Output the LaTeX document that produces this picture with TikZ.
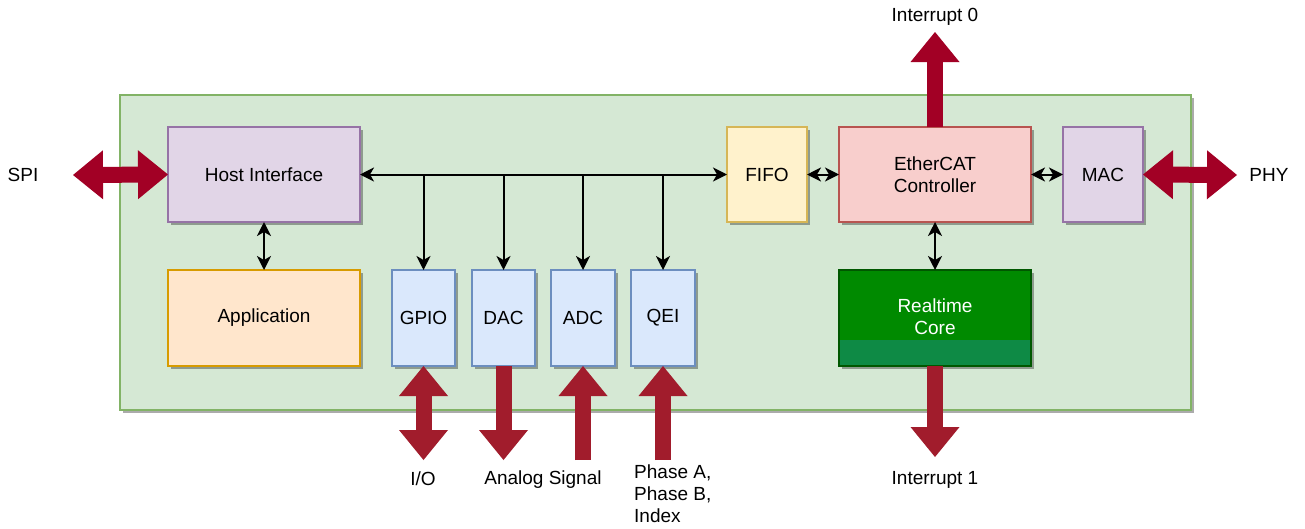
\documentclass[tikz,border=0pt]{standalone}
\usepackage{fontspec}
\setmainfont{Liberation Sans}
\usetikzlibrary{arrows.meta,shadows}
\definecolor{contfill}{HTML}{D5E8D4}
\definecolor{contdraw}{HTML}{82B366}
\definecolor{purfill}{HTML}{E1D5E7}
\definecolor{purdraw}{HTML}{9673A6}
\definecolor{orfill}{HTML}{FFE6CC}
\definecolor{ordraw}{HTML}{D79B00}
\definecolor{bluefill}{HTML}{DAE8FC}
\definecolor{bluedraw}{HTML}{6C8EBF}
\definecolor{yelfill}{HTML}{FFF2CC}
\definecolor{yeldraw}{HTML}{D6B656}
\definecolor{redfill}{HTML}{F8CECC}
\definecolor{reddraw}{HTML}{B85450}
\definecolor{rtfill}{HTML}{008A00}
\definecolor{rtdraw}{HTML}{005700}
\definecolor{rtstrip}{HTML}{0E8A45}
\definecolor{crimsonA}{HTML}{A20025}
\definecolor{crimsonB}{HTML}{A11C2C}
\begin{document}
\begin{tikzpicture}[x=1pt,y=-1pt,
  every node/.style={font=\fontsize{19}{22}\selectfont},
  box/.style={draw, line width=1.3pt, inner sep=0pt, outer sep=0pt, align=center, anchor=north west,
    drop shadow={shadow xshift=3pt, shadow yshift=-3pt, fill=black, opacity=0.33}},
  lbl/.style={inner sep=0pt, align=center},
  conn/.style={line width=2pt, {Stealth[length=14pt,width=14pt,inset=4pt]}-{Stealth[length=14pt,width=14pt,inset=4pt]}},
  connone/.style={line width=2pt, -{Stealth[length=14pt,width=14pt,inset=4pt]}},
  bigone/.style={line width=16pt, -{Triangle[length=30pt,width=49pt,line width=0pt]}},
  bigtwo/.style={line width=16pt, {Triangle[length=30pt,width=49pt,line width=0pt]}-{Triangle[length=30pt,width=49pt,line width=0pt]}}
]
\fill[white] (0,0) rectangle (1305,528);
\useasboundingbox (0,0) rectangle (1305,528);

% container
\node[box, draw=contdraw, fill=contfill, minimum width=1071pt, minimum height=315pt] (chip) at (120,95) {};

% blocks
\node[box, draw=purdraw, fill=purfill, minimum width=192pt, minimum height=95pt] (host) at (168,127) {Host Interface};
\node[box, draw=ordraw, fill=orfill, minimum width=192pt, minimum height=96pt] (app) at (168,270) {Application};
\node[box, draw=bluedraw, fill=bluefill, minimum width=63pt, minimum height=96pt] (gpio) at (392,270) {GPIO};
\node[box, draw=bluedraw, fill=bluefill, minimum width=63pt, minimum height=96pt] (dac) at (472,270) {DAC};
\node[box, draw=bluedraw, fill=bluefill, minimum width=64pt, minimum height=96pt] (adc) at (551,270) {ADC};
\node[box, draw=bluedraw, fill=bluefill, minimum width=64pt, minimum height=96pt] (qei) at (631,270) {QEI};
\node[box, draw=yeldraw, fill=yelfill, minimum width=80pt, minimum height=95pt] (fifo) at (727,127) {FIFO};
\node[box, draw=reddraw, fill=redfill, minimum width=192pt, minimum height=95pt] (ether) at (839,127) {EtherCAT\\Controller};
\node[box, draw=purdraw, fill=purfill, minimum width=80pt, minimum height=95pt] (mac) at (1063,127) {MAC};
\node[box, draw=rtdraw, fill=rtfill, minimum width=192pt, minimum height=96pt] (rt) at (839,270) {};
\fill[rtstrip] ([xshift=0.65pt,yshift=0.65pt]rt.south west) rectangle ([xshift=-0.65pt,yshift=26pt]rt.south east);
\node[lbl, text=white] (rttext) at (935,317) {Realtime\\Core};

% thin connectors
\draw[conn] (host.east) -- (fifo.west);
\foreach \b in {gpio,dac,adc,qei}{
  \draw[connone] (\b.north |- host.east) -- (\b.north);
}
\draw[conn] (host.south) -- (app.north);
\draw[conn] (fifo.east) -- (ether.west);
\draw[conn] (ether.east) -- (mac.west);
\draw[conn] (ether.south) -- (rt.north);

% labels
\node[lbl] (spi) at (23,175) {SPI};
\node[lbl] (phy) at (1269,175) {PHY};
\node[lbl] (int0) at (935,17) {Interrupt 0};
\node[lbl] (int1) at (935,480) {Interrupt 1};
\node[lbl] (io) at (423,479) {I/O};
\node[lbl] (analog) at (543,480) {Analog Signal};
\node[lbl, anchor=north west, align=left] (phase) at (634,465) {Phase A,\\Phase B,\\Index};

% coordinates for big arrows
\coordinate (spitip) at (73,175);
\coordinate (phytip) at (1237,175);
\coordinate (int0tip) at (935,32);
\coordinate (int1tip) at (935,457);
\path (gpio.south) ++(0,94) coordinate (gpioend);
\path (dac.south) ++(0,94) coordinate (dacend);
\path (adc.south) ++(0,94) coordinate (adcend);
\path (qei.south) ++(0,94) coordinate (qeiend);

% big arrows
\draw[bigtwo, crimsonA] (spitip) -- (host.west);
\draw[bigtwo, crimsonA] (mac.east) -- (phytip);
\draw[bigone, crimsonA] (ether.north) -- (int0tip);
\draw[bigone, crimsonB] (rt.south) -- (int1tip);
\draw[bigtwo, crimsonB] (gpio.south) -- (gpioend);
\draw[bigone, crimsonB] (dac.south) -- (dacend);
\draw[bigone, crimsonB] (adcend) -- (adc.south);
\draw[bigone, crimsonB] (qeiend) -- (qei.south);
\end{tikzpicture}
\end{document}
